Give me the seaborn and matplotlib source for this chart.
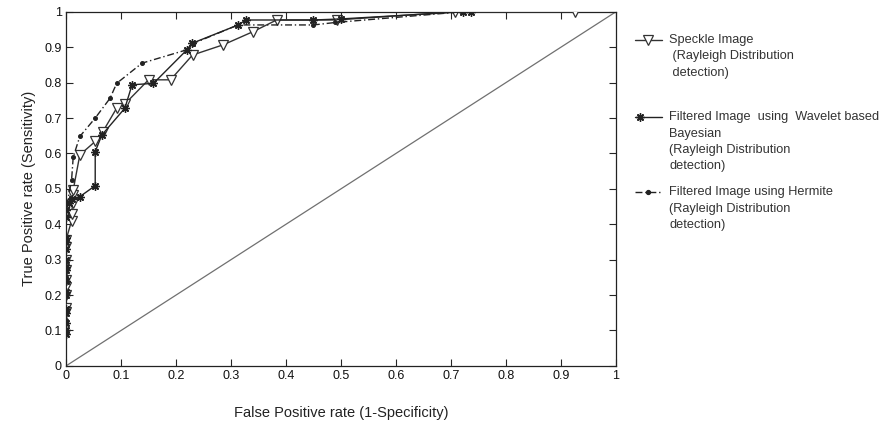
import matplotlib
matplotlib.use("Agg")
import matplotlib.pyplot as plt
from matplotlib.lines import Line2D
import seaborn as sns
import pandas as pd

# ---- data ----
speckle_x = [0, 0, 0, 0, 0, 0, 0, 0, 0, 0.01, 0.01, 0.012, 0.013, 0.013,
             0.025, 0.053, 0.067, 0.092, 0.107, 0.15, 0.19, 0.23, 0.286,
             0.34, 0.383, 0.492, 0.707, 0.925]
speckle_y = [0.153, 0.164, 0.2, 0.224, 0.243, 0.27, 0.30, 0.337, 0.356,
             0.41, 0.43, 0.46, 0.483, 0.497,
             0.596, 0.634, 0.662, 0.728, 0.74, 0.808, 0.808, 0.878, 0.907,
             0.944, 0.977, 0.977, 1.0, 1.0]

wavelet_x = [0, 0, 0, 0, 0, 0, 0, 0, 0, 0, 0, 0, 0, 0, 0, 0,
             0.005, 0.01, 0.025, 0.053, 0.053, 0.065, 0.107, 0.12, 0.159,
             0.22, 0.229, 0.313, 0.327, 0.45, 0.5, 0.722, 0.736]
wavelet_y = [0.09, 0.10, 0.12, 0.15, 0.16, 0.20, 0.21, 0.24, 0.27, 0.28,
             0.30, 0.33, 0.35, 0.36, 0.42, 0.44,
             0.46, 0.47, 0.478, 0.509, 0.605, 0.652, 0.728, 0.794, 0.798,
             0.893, 0.911, 0.963, 0.977, 0.977, 0.98, 1.0, 1.0]

hermite_x = [0, 0, 0, 0, 0, 0, 0, 0,
             0.01, 0.013, 0.025, 0.053, 0.08, 0.092, 0.138, 0.22, 0.23,
             0.313, 0.45, 0.49, 0.72]
hermite_y = [0.10, 0.13, 0.20, 0.25, 0.30, 0.35, 0.42, 0.44,
             0.525, 0.59, 0.648, 0.70, 0.756, 0.798, 0.855, 0.893, 0.91,
             0.963, 0.963, 0.97, 1.0]

labels = [["Speckle Image", " (Rayleigh Distribution", " detection)"],
          ["Filtered Image  using  Wavelet based", "Bayesian",
           "(Rayleigh Distribution", "detection)"],
          ["Filtered Image using Hermite", "(Rayleigh Distribution", "detection)"]]

x_ticks = [0, 0.1, 0.2, 0.3, 0.4, 0.5, 0.6, 0.7, 0.8, 0.9, 1]
x_ticklabels = ["0", "0.1", "0.2", "0.3", "0.4", "0.5", "0.6", "0.7", "0.8", "0.9", "1"]

sns.set_theme(style="white")
plt.rcParams['font.family'] = ['Liberation Sans', 'DejaVu Sans']

W, H = 881, 423
fig = plt.figure(figsize=(W / 100, H / 100), dpi=100)
ax = fig.add_axes([0.075, 0.135, 0.624, 0.837])

df_s = pd.DataFrame({"x": speckle_x, "y": speckle_y})
df_w = pd.DataFrame({"x": wavelet_x, "y": wavelet_y})
df_h = pd.DataFrame({"x": hermite_x, "y": hermite_y})

ax.plot([0, 1], [0, 1], color="#707070", lw=0.9, zorder=1)

s_style = dict(color="#333333", lw=1.0, marker="v", markersize=7,
               markerfacecolor="white", markeredgecolor="#333333",
               markeredgewidth=0.9)
w_style = dict(color="#222222", lw=1.0, marker=(8, 2, 0), markersize=6,
               markerfacecolor="#222222", markeredgecolor="#222222",
               markeredgewidth=1.0)
h_style = dict(color="#222222", lw=1.0, linestyle=(0, (5, 2, 1, 2)),
               marker="o", markersize=2.8, markerfacecolor="#222222",
               markeredgecolor="#222222")

sns.lineplot(data=df_s, x="x", y="y", sort=False, estimator=None, ax=ax,
             zorder=3, legend=False, **s_style)
sns.lineplot(data=df_w, x="x", y="y", sort=False, estimator=None, ax=ax,
             zorder=4, legend=False, **w_style)
sns.lineplot(data=df_h, x="x", y="y", sort=False, estimator=None, ax=ax,
             zorder=5, legend=False, **h_style)

ax.set_xlim(0, 1)
ax.set_ylim(0, 1)
ax.set_xticks(x_ticks)
ax.set_xticklabels(x_ticklabels)
ax.set_yticks(x_ticks)
ax.set_yticklabels(x_ticklabels)
for lab in ax.get_xticklabels() + ax.get_yticklabels():
    lab.set_fontsize(9)
ax.tick_params(direction="in", length=5, width=0.8, top=True, right=True,
               bottom=True, left=True, labelcolor="#111111", pad=3)
for sp in ax.spines.values():
    sp.set_color("#222222")
    sp.set_linewidth(0.9)
    sp.set_visible(True)

ax.set_xlabel("False Positive rate (1-Specificity)", fontsize=10.5,
              color="#222222", labelpad=17)
ax.set_ylabel("True Positive rate (Sensitivity)", fontsize=10.5,
              color="#222222", labelpad=6)

# ---- legend (manual, outside the axes, handle aligned with first line) ----
def fx(px):
    return px / W

def fy(py):
    return 1 - py / H

entry_y = [40, 117, 192]
line_gap = 16.5
styles = [s_style, w_style, h_style]
marker_px = [648, 640, 648]
for i, (lines, st, ey) in enumerate(zip(labels, styles, entry_y)):
    base = {k: v for k, v in st.items() if not k.startswith("marker")}
    fig.add_artist(Line2D([fx(635), fx(662)], [fy(ey), fy(ey)],
                          transform=fig.transFigure, **base))
    mk = {k: v for k, v in st.items() if k.startswith("marker")}
    fig.add_artist(Line2D([fx(marker_px[i])], [fy(ey)], linestyle="none",
                          transform=fig.transFigure, **mk))
    for j, t in enumerate(lines):
        fig.text(fx(669), fy(ey + j * line_gap), t, fontsize=9.2,
                 color="#333333", va="center", ha="left")

fig.savefig("out.png", dpi=100)
